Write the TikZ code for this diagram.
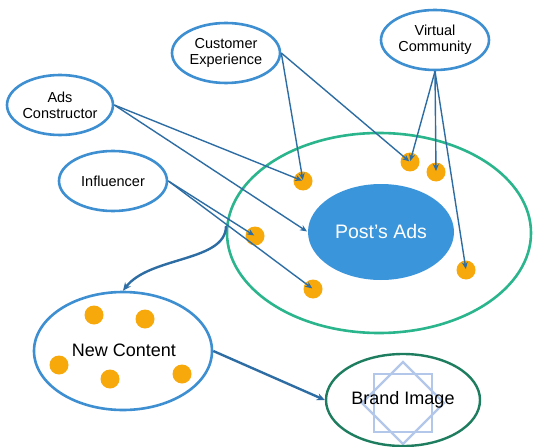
\documentclass[tikz,border=0pt]{standalone}
\usepackage{fontspec}
\setmainfont{Liberation Sans}
\usetikzlibrary{shapes.geometric,arrows.meta}
\definecolor{ringblue}{HTML}{3D8FD1}
\definecolor{adsblue}{HTML}{3A95DB}
\definecolor{ringgreen}{HTML}{2BB58C}
\definecolor{deepgreen}{HTML}{1D7D5E}
\definecolor{dotorange}{HTML}{F7A80B}
\definecolor{linkblue}{HTML}{2D6DA3}
\definecolor{starblue}{HTML}{B3C7EA}
\tikzset{
  factor/.style={ellipse, draw=ringblue, line width=2.6pt, fill=white, inner sep=0pt,
    align=center, font=\fontsize{14.5}{16}\selectfont},
  dot/.style={circle, fill=dotorange, minimum size=19pt, inner sep=0pt},
  link/.style={draw=linkblue, line width=1.4pt, -{Stealth[length=7pt,width=6pt]}, shorten >=1pt},
  flow/.style={draw=linkblue, line width=2.4pt, -{Stealth[length=8pt,width=7pt]}}
}
\begin{document}
\begin{tikzpicture}[x=1pt,y=-1pt]
\useasboundingbox (0,0) rectangle (534,446);

% outer platform ring and the post in its middle
\node[ellipse, draw=ringgreen, line width=2.6pt, minimum width=304pt, minimum height=200pt, inner sep=0pt] (ring) at (379,233) {};
\node[ellipse, fill=adsblue, minimum width=146pt, minimum height=96pt, inner sep=0pt,
  text=white, font=\fontsize{19.5}{22}\selectfont] (post) at (381,232) {Post's Ads};

% source factors
\node[factor, minimum width=108pt, minimum height=60pt] (cust) at (226,53) {Customer\\Experience};
\node[factor, minimum width=108pt, minimum height=60pt] (virt) at (435,40) {Virtual\\Community};
\node[factor, minimum width=106pt, minimum height=60pt] (ads) at (60,105) {Ads\\Constructor};
\node[factor, minimum width=108pt, minimum height=60pt] (infl) at (113,181) {Influencer};

% touch points inside the ring
\node[dot] (d1) at (303,181) {};
\node[dot] (d2) at (410,162) {};
\node[dot] (d3) at (436,172) {};
\node[dot] (d4) at (255,236) {};
\node[dot] (d5) at (313,289) {};
\node[dot] (d6) at (466,270) {};

% new content with its items
\node[ellipse, draw=ringblue, line width=2.6pt, minimum width=178pt, minimum height=118pt, inner sep=0pt,
  font=\fontsize{18}{20}\selectfont] (nc) at (123,351) {};
\node[dot] (n1) at (94,315) {};
\node[dot] (n2) at (145,319) {};
\node[dot] (n3) at (59,365) {};
\node[dot] (n4) at (110,379) {};
\node[dot] (n5) at (182,374) {};
\node[font=\fontsize{18}{20}\selectfont] (nclabel) at (124,350) {New Content};

% brand image with its star mark
\begin{scope}[shift={(403,403)}]
  \draw[starblue, line width=2.4pt] (-29,-29) rectangle (29,29);
  \draw[starblue, line width=2.4pt, rotate=45] (-29,-29) rectangle (29,29);
\end{scope}
\node[ellipse, draw=deepgreen, line width=2.4pt, minimum width=154pt, minimum height=92pt, inner sep=0pt,
  font=\fontsize{18}{20}\selectfont] (brand) at (403,400) {Brand Image};

% influence links
\draw[link] (cust.east) -- (d1.center);
\draw[link] (cust.east) -- (d2.center);
\draw[link] (virt.south) -- (d2.center);
\draw[link] (virt.south) -- (d3.center);
\draw[link] (virt.south) -- (d6.center);
\draw[link] (ads.east) -- (d1.center);
\draw[link] (ads.east) -- (post.west);
\draw[link] (infl.east) -- (d4.center);
\draw[link] (infl.east) -- (d5.center);

% flows out of the ring
\coordinate (ringout) at (226,226);
\draw[flow] (ringout) .. controls (226,262) and (150,256) .. (nc.north);
\draw[flow] (nc.east) -- (brand.west);
\end{tikzpicture}
\end{document}
